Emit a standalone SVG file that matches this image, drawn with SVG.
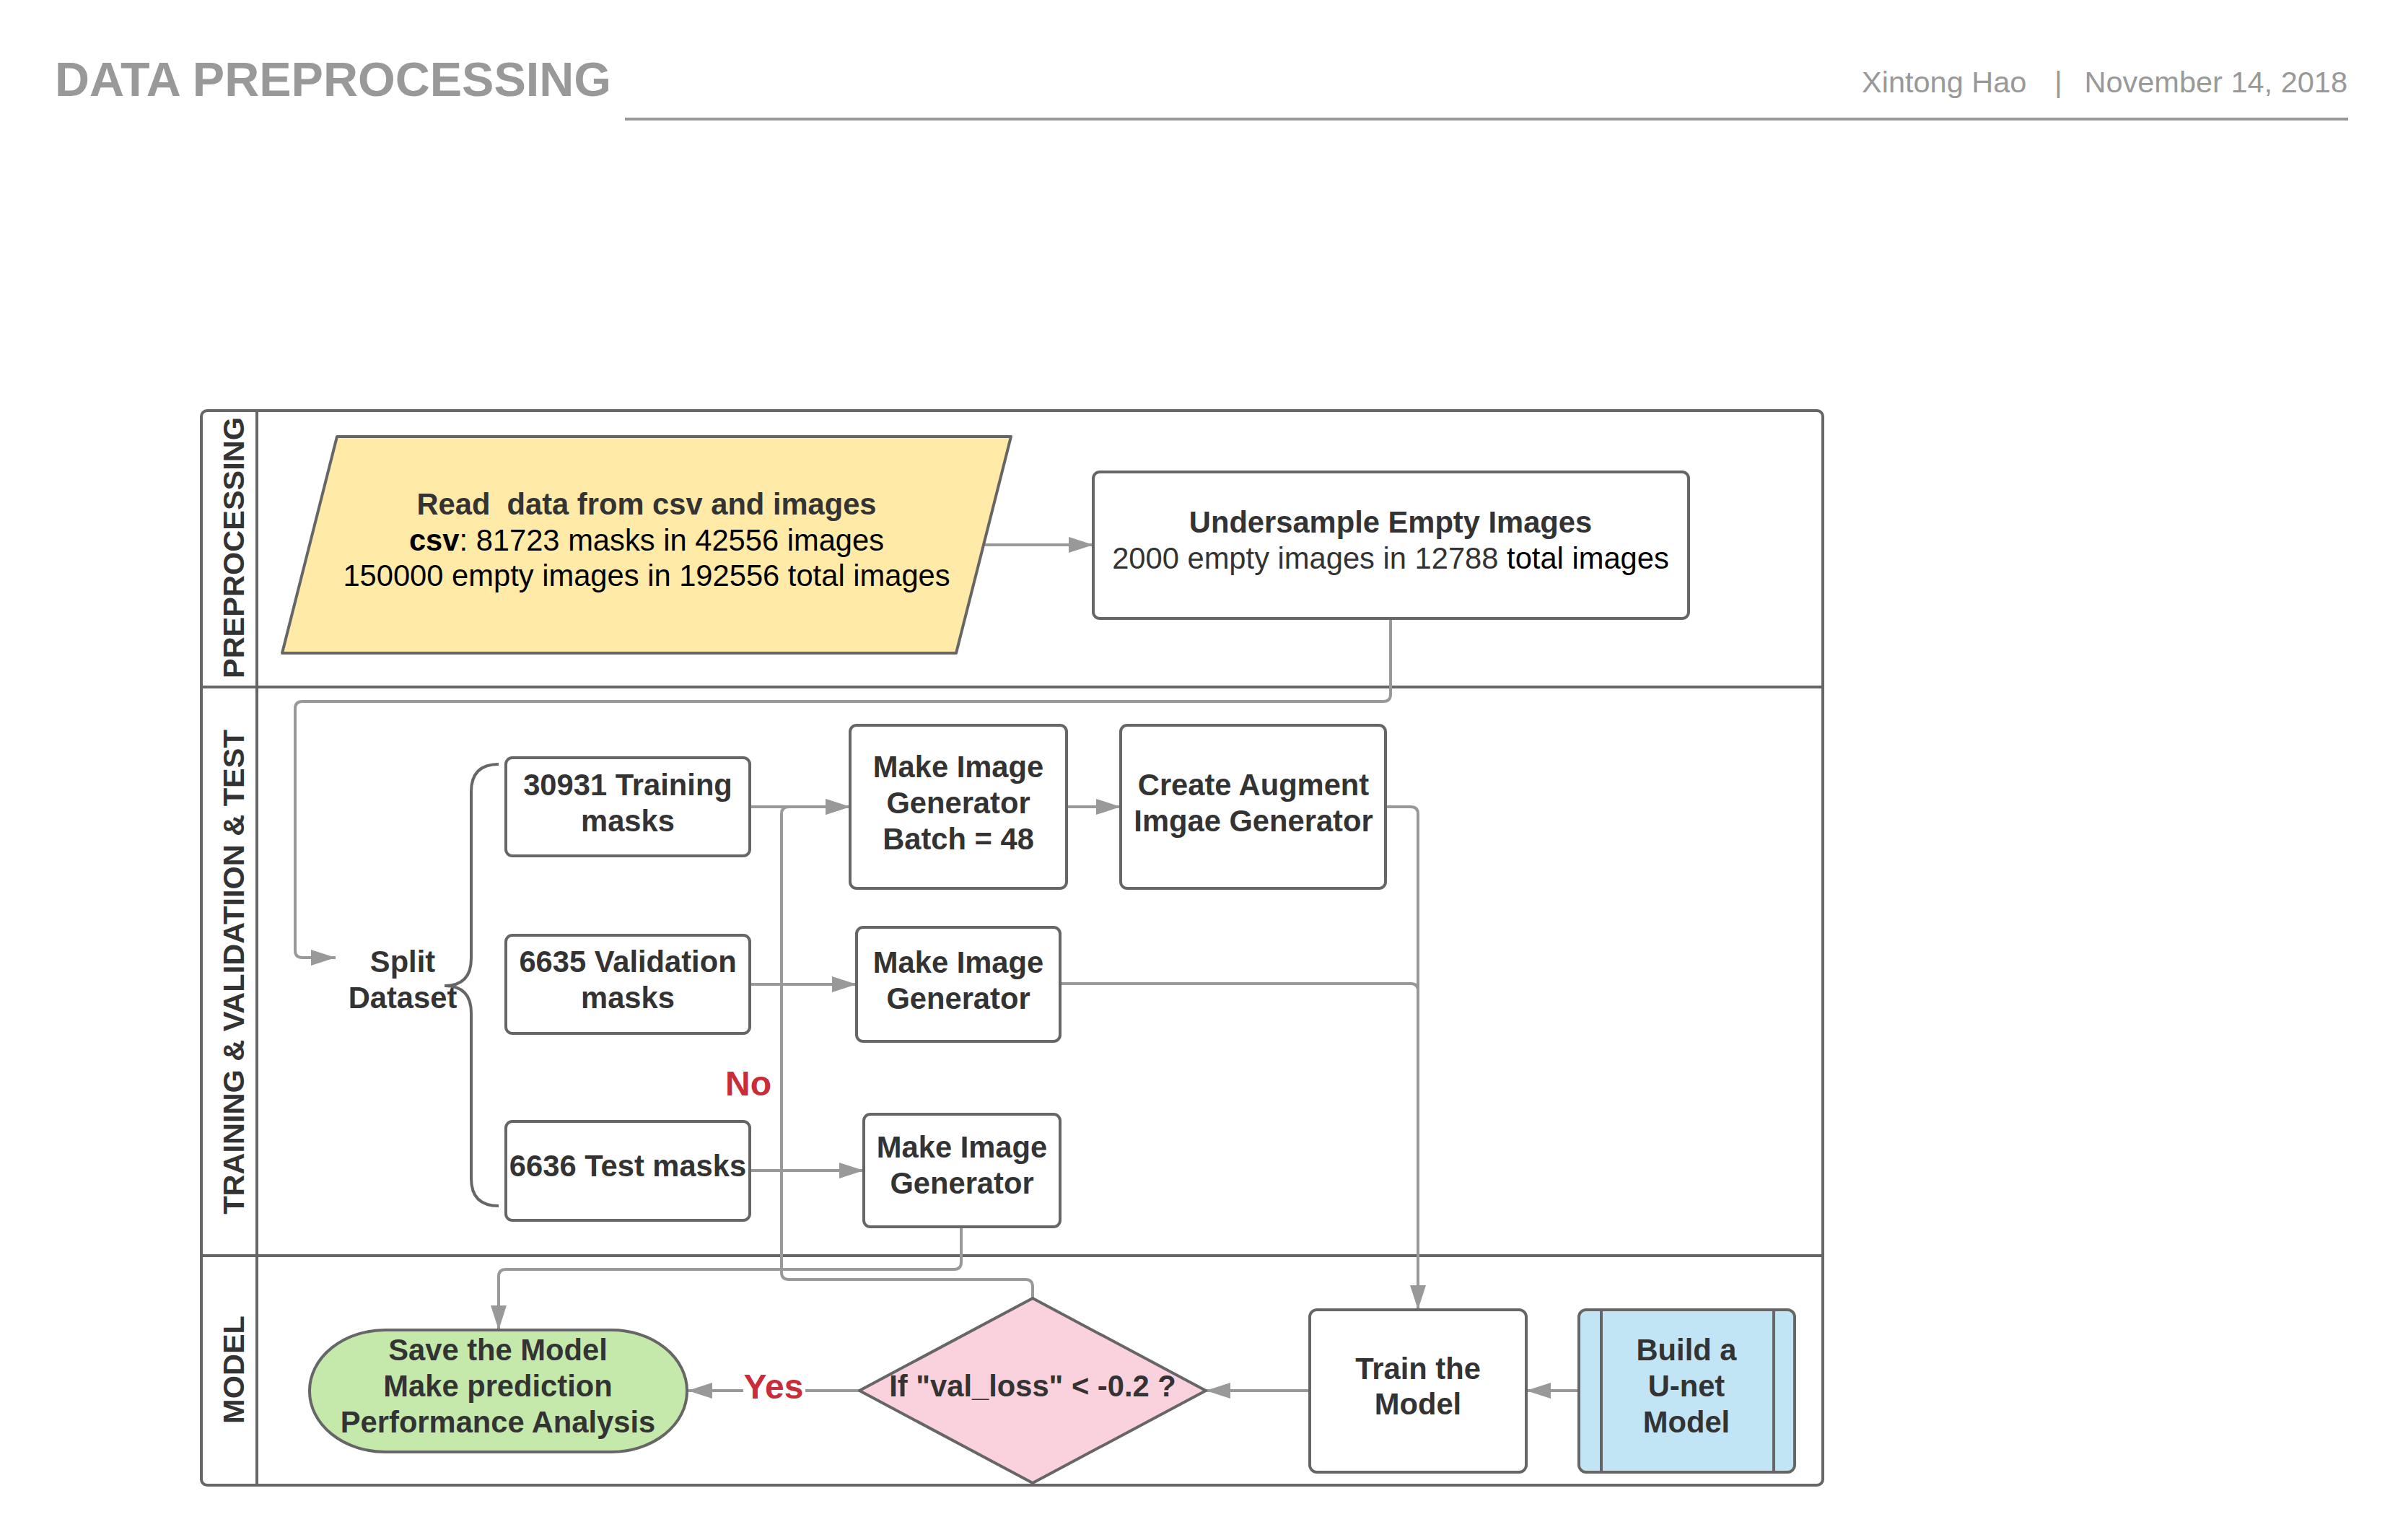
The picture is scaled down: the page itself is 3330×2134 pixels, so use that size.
<svg xmlns="http://www.w3.org/2000/svg" width="3330" height="2134" viewBox="0 0 3330 2134">
<defs>
<marker id="ah" markerUnits="userSpaceOnUse" markerWidth="34" markerHeight="22" refX="34" refY="11" orient="auto">
<path d="M0,0 L34,11 L0,22 z" fill="#999999"/>
</marker>
<style>
text{font-family:"Liberation Sans",Arial,sans-serif;}
.b{font-weight:bold;fill:#333333;font-size:41.7px;}
.r{fill:#000000;font-size:41.7px;}
.lane{font-weight:bold;fill:#333333;font-size:41.5px;}
.node{stroke:#666666;stroke-width:4;}
.conn{fill:none;stroke:#999999;stroke-width:4;}
.frame{fill:none;stroke:#666666;stroke-width:4;}
.lbl{font-weight:bold;fill:#C92D39;font-size:48px;}
</style>
</defs>
<rect width="3330" height="2134" fill="#ffffff"/>
<g id="header">
<text x="76" y="133" style="font-weight:bold;font-size:66.5px;fill:#999999">DATA PREPROCESSING</text>
<text x="2580" y="128" style="font-size:41.5px;fill:#999999">Xintong Hao</text>
<text x="2847" y="128" style="font-size:41.5px;fill:#999999">|</text>
<text x="3253" y="128" text-anchor="end" style="font-size:41.5px;fill:#999999">November 14, 2018</text>
<line x1="866" y1="165" x2="3254" y2="165" stroke="#999999" stroke-width="4"/>
</g>
<g id="lanes">
<rect class="frame" x="279" y="569" width="2247" height="1489" rx="8"/>
<line class="frame" x1="356" y1="569" x2="356" y2="2058"/>
<line class="frame" x1="279" y1="952" x2="2526" y2="952"/>
<line class="frame" x1="279" y1="1740" x2="2526" y2="1740"/>
<text class="lane" transform="translate(338,759) rotate(-90)" text-anchor="middle">PREPROCESSING</text>
<text class="lane" transform="translate(338,1347) rotate(-90)" text-anchor="middle">TRAINING &amp; VALIDATIION &amp; TEST</text>
<text class="lane" transform="translate(338,1898) rotate(-90)" text-anchor="middle">MODEL</text>
</g>
<g id="connectors">
<path class="conn" d="M1363,755 L1515,755" marker-end="url(#ah)"/>
<path class="conn" d="M1927,857 L1927,962 Q1927,972 1917,972 L419,972 Q409,972 409,982 L409,1317 Q409,1327 419,1327 L465,1327" marker-end="url(#ah)"/>
<path class="conn" d="M1039,1118 L1178,1118" marker-end="url(#ah)"/>
<path class="conn" d="M1431,1799 L1431,1783 Q1431,1773 1421,1773 L1093,1773 Q1083,1773 1083,1763 L1083,1128 Q1083,1118 1093,1118 L1178,1118" marker-end="url(#ah)"/>
<path class="conn" d="M1478,1118 L1553,1118" marker-end="url(#ah)"/>
<path class="conn" d="M1039,1364 L1187,1364" marker-end="url(#ah)"/>
<path class="conn" d="M1039,1622 L1197,1622" marker-end="url(#ah)"/>
<path class="conn" d="M1920,1118 L1955,1118 Q1965,1118 1965,1128 L1965,1815" marker-end="url(#ah)"/>
<path class="conn" d="M1469,1363 L1955,1363 Q1965,1363 1965,1373"/>
<path class="conn" d="M1332,1700 L1332,1749 Q1332,1759 1322,1759 L701,1759 Q691,1759 691,1769 L691,1843" marker-end="url(#ah)"/>
<path class="conn" d="M1191,1927 L953,1927" marker-end="url(#ah)"/>
<path class="conn" d="M1815,1927 L1671,1927" marker-end="url(#ah)"/>
<path class="conn" d="M2188,1927 L2115,1927" marker-end="url(#ah)"/>
<rect x="1030" y="1895" width="86" height="60" fill="#ffffff"/>
<text class="lbl" x="1072" y="1938" text-anchor="middle">Yes</text>
<text class="lbl" x="1037" y="1518" text-anchor="middle">No</text>
</g>
<g id="read-data">
<polygon class="node" points="467,605 1401,605 1325,905 391,905" fill="#FFEAA7" stroke-linejoin="round"/>
<text class="b" x="896" y="713" text-anchor="middle" style="white-space:pre">Read  data from csv and images</text>
<text class="r" x="896" y="763" text-anchor="middle"><tspan style="font-weight:bold">csv</tspan>: 81723 masks in 42556 images</text>
<text class="r" x="896" y="812" text-anchor="middle">150000 empty images in 192556 total images</text>
</g>
<g id="undersample">
<rect class="node" x="1515" y="654" width="825" height="203" rx="9" fill="#ffffff"/>
<text class="b" x="1927" y="738" text-anchor="middle">Undersample Empty Images</text>
<text class="r" x="1927" y="788" text-anchor="middle"><tspan fill="#333333">2000 empty images in 12788</tspan> total images</text>
</g>
<g id="split-dataset">
<text class="b" x="558" y="1347" text-anchor="middle">Split</text>
<text class="b" x="558" y="1397" text-anchor="middle">Dataset</text>
<path d="M691,1059 Q653,1059 653,1097 L653,1328 Q653,1366 616,1366 Q653,1366 653,1404 L653,1633 Q653,1671 691,1671" fill="none" stroke="#666666" stroke-width="4"/>
</g>
<g id="training-masks">
<rect class="node" x="701" y="1050" width="338" height="136" rx="9" fill="#ffffff"/>
<text class="b" x="870" y="1102" text-anchor="middle">30931 Training</text>
<text class="b" x="870" y="1152" text-anchor="middle">masks</text>
</g>
<g id="validation-masks">
<rect class="node" x="701" y="1296" width="338" height="136" rx="9" fill="#ffffff"/>
<text class="b" x="870" y="1347" text-anchor="middle">6635 Validation</text>
<text class="b" x="870" y="1397" text-anchor="middle">masks</text>
</g>
<g id="test-masks">
<rect class="node" x="701" y="1554" width="338" height="137" rx="9" fill="#ffffff"/>
<text class="b" x="870" y="1630" text-anchor="middle">6636 Test masks</text>
</g>
<g id="mig-train">
<rect class="node" x="1178" y="1005" width="300" height="226" rx="9" fill="#ffffff"/>
<text class="b" x="1328" y="1077" text-anchor="middle">Make Image</text>
<text class="b" x="1328" y="1127" text-anchor="middle">Generator</text>
<text class="b" x="1328" y="1177" text-anchor="middle">Batch = 48</text>
</g>
<g id="augment">
<rect class="node" x="1553" y="1005" width="367" height="226" rx="9" fill="#ffffff"/>
<text class="b" x="1737" y="1102" text-anchor="middle">Create Augment</text>
<text class="b" x="1737" y="1152" text-anchor="middle">Imgae Generator</text>
</g>
<g id="mig-val">
<rect class="node" x="1187" y="1285" width="282" height="158" rx="9" fill="#ffffff"/>
<text class="b" x="1328" y="1348" text-anchor="middle">Make Image</text>
<text class="b" x="1328" y="1398" text-anchor="middle">Generator</text>
</g>
<g id="mig-test">
<rect class="node" x="1197" y="1544" width="272" height="156" rx="9" fill="#ffffff"/>
<text class="b" x="1333" y="1604" text-anchor="middle">Make Image</text>
<text class="b" x="1333" y="1654" text-anchor="middle">Generator</text>
</g>
<g id="save-model">
<rect class="node" x="429" y="1843" width="523" height="169" rx="105" ry="84" fill="#C5E8AB"/>
<text class="b" x="690" y="1885" text-anchor="middle">Save the Model</text>
<text class="b" x="690" y="1935" text-anchor="middle">Make prediction</text>
<text class="b" x="690" y="1985" text-anchor="middle">Performance Analysis</text>
</g>
<g id="decision">
<polygon class="node" points="1431,1799 1671,1927 1431,2055 1191,1927" fill="#F9D2DE" stroke-linejoin="round"/>
<text class="b" x="1431" y="1935" text-anchor="middle">If "val_loss" &lt; -0.2 ?</text>
</g>
<g id="train-model">
<rect class="node" x="1815" y="1815" width="300" height="225" rx="10" fill="#ffffff"/>
<text class="b" x="1965" y="1911" text-anchor="middle">Train the</text>
<text class="b" x="1965" y="1960" text-anchor="middle">Model</text>
</g>
<g id="build-unet">
<rect class="node" x="2188" y="1815" width="299" height="225" rx="10" fill="#C2E5F6"/>
<line class="node" x1="2219" y1="1815" x2="2219" y2="2040"/>
<line class="node" x1="2458" y1="1815" x2="2458" y2="2040"/>
<text class="b" x="2337" y="1885" text-anchor="middle">Build a</text>
<text class="b" x="2337" y="1935" text-anchor="middle">U-net</text>
<text class="b" x="2337" y="1985" text-anchor="middle">Model</text>
</g>
</svg>
